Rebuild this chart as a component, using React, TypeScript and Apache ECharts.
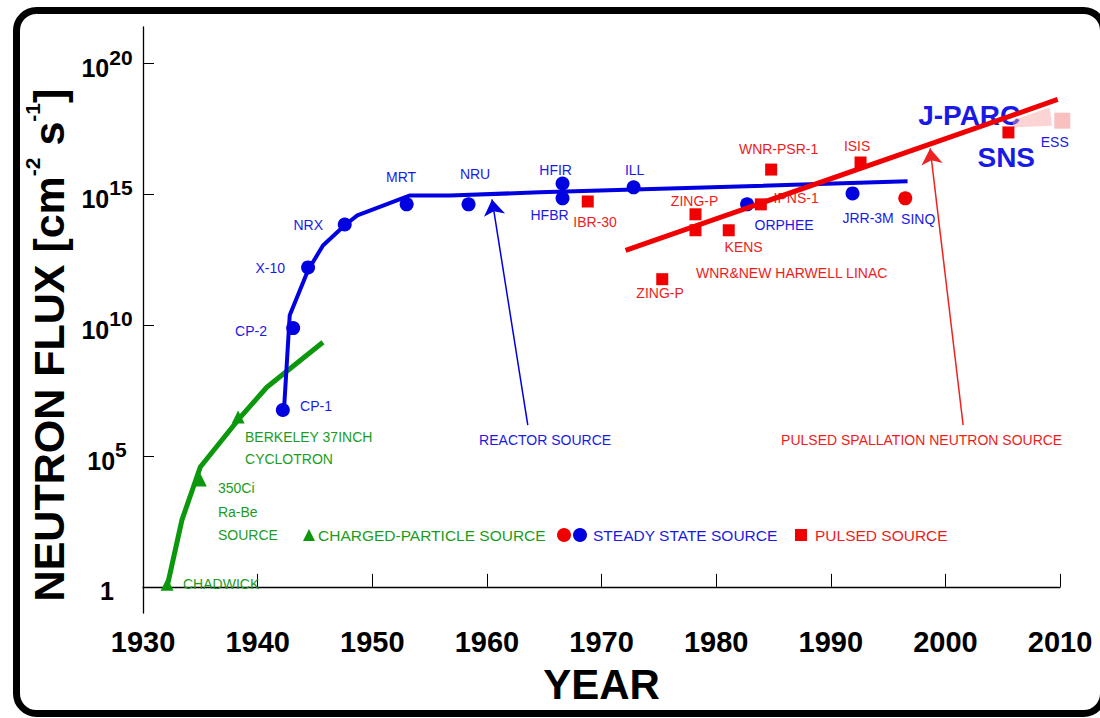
import React, { useEffect, useRef } from 'react';
import * as echarts from 'echarts';

// ---------- data (x = year, y = log10 of neutron flux) ----------
const fluxTickExponents = [0, 5, 10, 15, 20];

const chargedCurve = [
  [1932.1, 0.0], [1933.4, 2.56], [1935.0, 4.58], [1938.5, 6.49], [1940.8, 7.63], [1945.7, 9.35],
];
const chargedSources = [
  ['CHADWICK', 1932.1, 0.1],
  ['350Ci Ra-Be', 1935.0, 4.08],
  ['BERKELEY 37INCH', 1938.3, 6.49],
];

const reactorCurve = [
  [1942.3, 6.76], [1942.8, 10.38], [1944.4, 12.1], [1945.7, 13.05], [1947.6, 13.82],
  [1948.7, 14.2], [1953.3, 14.96], [1956.8, 14.96], [1964.6, 15.08], [1996.7, 15.5],
];
const steadySources = [
  ['CP-1', 1942.2, 6.76], ['CP-2', 1943.1, 9.89], ['X-10', 1944.4, 12.21], ['NRX', 1947.6, 13.85],
  ['MRT', 1953.0, 14.62], ['NRU', 1958.4, 14.62], ['HFIR', 1966.6, 15.42], ['HFBR', 1966.6, 14.85],
  ['ILL', 1972.8, 15.27], ['ORPHEE', 1982.7, 14.62], ['JRR-3M', 1991.9, 15.04],
];
const steadySpallation = [['SINQ', 1996.5, 14.85]];

const pulsedTrend = [[1972.1, 12.86], [2009.8, 18.63]];
const pulsedSources = [
  ['IBR-30', 1968.8, 14.73], ['ZING-P', 1978.2, 14.24], ['WNR', 1978.2, 13.63], ['KENS', 1981.1, 13.63],
  ['IPNS-1', 1983.9, 14.62], ['WNR-PSR-1', 1984.8, 15.95], ['ISIS', 1992.6, 16.22],
  ['ZING-P (1975)', 1975.3, 11.76], ['SNS', 2005.5, 17.37],
];
const futureSources = [['ESS', 2010.2, 17.82]];
const futureFan = [[2005.9, 17.56], [2005.9, 17.84], [2009.1, 18.32], [2009.3, 17.63]];

const arrowReactor = [[1963.57, 6.18], [1960.45, 14.81]];
const arrowPulsed = [[2001.55, 6.18], [1998.67, 16.76]];

// annotation texts: [text, year, log10 flux, align]
const greenNotes = [
  ['CHADWICK', 1933.49, 0.11, 'left'], ['350Ci', 1936.54, 3.78, 'left'], ['Ra-Be', 1936.54, 2.86, 'left'],
  ['SOURCE', 1936.54, 2.0, 'left'], ['BERKELEY 37INCH', 1938.9, 5.73, 'left'], ['CYCLOTRON', 1938.9, 4.89, 'left'],
];
const blueNotes = [
  ['CP-1', 1943.7, 6.91, 'left'], ['CP-2', 1940.82, 9.77, 'right'], ['X-10', 1942.39, 12.18, 'right'],
  ['NRX', 1945.71, 13.85, 'right'], ['MRT', 1952.51, 15.65, 'center'], ['NRU', 1958.97, 15.8, 'center'],
  ['HFIR', 1966.0, 15.92, 'center'], ['HFBR', 1965.47, 14.2, 'center'], ['ILL', 1972.89, 15.92, 'center'],
  ['ORPHEE', 1985.93, 13.82, 'center'], ['JRR-3M', 1993.26, 14.08, 'center'], ['SINQ', 1997.63, 14.05, 'center'],
  ['REACTOR SOURCE', 1965.08, 5.61, 'center'], ['ESS', 2009.54, 17.02, 'center'],
];
const bigNotes = [['J-PARC', 2002.08, 18.02], ['SNS', 2005.31, 16.41]];
const redNotes = [
  ['IBR-30', 1969.44, 13.93, 'center'], ['ZING-P', 1978.12, 14.73, 'center'], ['IPNS-1', 1986.98, 14.85, 'center'],
  ['WNR-PSR-1', 1985.45, 16.72, 'center'], ['ISIS', 1992.3, 16.87, 'center'], ['KENS', 1982.4, 12.98, 'center'],
  ['WNR&NEW HARWELL LINAC', 1986.59, 11.98, 'center'], ['ZING-P', 1975.11, 11.22, 'center'],
  ['PULSED SPALLATION NEUTRON SOURCE', 1997.93, 5.61, 'center'],
];

const legendItems = ['CHARGED-PARTICLE SOURCE', 'STEADY STATE SOURCE', 'PULSED SOURCE'];

// ---------- styles ----------
const FONT = '"Liberation Sans", Arial, Helvetica, sans-serif';
const GREEN = '#0c980c';
const GREEN_T = '#1c9c1c';
const BLUE = '#0000e0';
const BLUE_T = '#1a1ae6';
const RED = '#f00000';
const RED_T = '#ee1c1c';

function noteItems(notes: any[], color: string, size = 14, weight: any = 'normal') {
  return notes.map((n) => ({
    value: [n[1], n[2]],
    label: {
      show: true,
      formatter: n[0],
      color,
      opacity: 1,
      fontSize: size,
      fontWeight: weight,
      fontFamily: FONT,
      align: n[3] || 'center',
      verticalAlign: 'middle',
      position: 'inside',
    },
  }));
}

export default function App() {
  const ref = useRef<HTMLDivElement>(null);
  useEffect(() => {
    document.body.style.margin = '0';
    const chart = echarts.init(ref.current!, null, { renderer: 'svg' });
    const xy = (arr: any[]) => arr.map((d) => [d[1], d[2]]);
    const solid = (color: string) => ({ color, opacity: 1 });
    const note = (data: any[]) => ({
      type: 'scatter', z: 1, symbolSize: 0, silent: true, clip: false,
      itemStyle: { opacity: 1 }, data,
    });
    const option: any = {
      animation: false,
      backgroundColor: '#fff',
      grid: { left: 143, right: 40, top: 27, bottom: 105, containLabel: false },
      xAxis: {
        type: 'value', min: 1930, max: 2010, interval: 10,
        axisLine: { show: true, lineStyle: { color: '#000', width: 1.3 } },
        axisTick: { show: true, inside: true, length: 13, lineStyle: { color: '#000', width: 1 } },
        axisLabel: {
          fontSize: 29, fontWeight: 'bold', color: '#000', fontFamily: FONT, margin: 14,
          formatter: (v: number) => String(v),
        },
        splitLine: { show: false },
        name: 'YEAR', nameLocation: 'middle', nameGap: 50,
        nameTextStyle: { fontSize: 42, fontWeight: 'bold', color: '#000', fontFamily: FONT },
      },
      yAxis: {
        type: 'value', min: -1, max: 21.4,
        axisLine: { show: true, lineStyle: { color: '#000', width: 1.3 } },
        axisTick: { show: true, inside: true, length: 11, customValues: fluxTickExponents, lineStyle: { color: '#000', width: 1 } },
        axisLabel: {
          customValues: fluxTickExponents,
          align: 'center', margin: 36,
          formatter: (v: number) => (v === 0 ? '{b|1}' : `{b|10}{s|${v}}`),
          rich: {
            b: { fontSize: 25, fontWeight: 'bold', color: '#000', fontFamily: FONT, lineHeight: 34, verticalAlign: 'bottom' },
            s: { fontSize: 21, fontWeight: 'bold', color: '#000', fontFamily: FONT, lineHeight: 20, verticalAlign: 'top' },
          },
        },
        splitLine: { show: false },
      },
      graphic: [
        {
          type: 'rect', z: -10, silent: true,
          shape: { x: 16.5, y: 10.5, width: 1087, height: 703, r: 20 },
          style: { fill: 'none', stroke: '#000', lineWidth: 7 },
        },
        {
          type: 'text', x: 46, y: 345, rotation: Math.PI / 2,
          style: {
            text: '{a|NEUTRON FLUX [cm}{s|-2}{a| s}{s|-1}{a|]}',
            align: 'center', verticalAlign: 'middle',
            rich: {
              a: { fontSize: 43, fontWeight: 'bold', fill: '#000', fontFamily: FONT, lineHeight: 48, verticalAlign: 'bottom' },
              s: { fontSize: 21, fontWeight: 'bold', fill: '#000', fontFamily: FONT, lineHeight: 20, verticalAlign: 'top' },
            },
          },
        },
        // legend
        { type: 'polygon', shape: { points: [[303, 541], [315, 541], [309, 529]] }, style: { fill: GREEN } },
        { type: 'text', x: 318, y: 535, style: { text: legendItems[0], fill: GREEN_T, fontSize: 15.5, fontFamily: FONT, verticalAlign: 'middle' } },
        { type: 'circle', shape: { cx: 564, cy: 535, r: 7 }, style: { fill: RED } },
        { type: 'circle', shape: { cx: 580, cy: 535, r: 7 }, style: { fill: BLUE } },
        { type: 'text', x: 593, y: 535, style: { text: legendItems[1], fill: BLUE_T, fontSize: 15.5, fontFamily: FONT, verticalAlign: 'middle' } },
        { type: 'rect', shape: { x: 795, y: 529, width: 12, height: 12 }, style: { fill: RED } },
        { type: 'text', x: 815, y: 535, style: { text: legendItems[2], fill: RED_T, fontSize: 15.5, fontFamily: FONT, verticalAlign: 'middle' } },
      ],
      series: [
        // annotation texts (under the marks)
        note(noteItems(greenNotes, GREEN_T)),
        note(noteItems(blueNotes, BLUE_T)),
        note(noteItems(redNotes, RED_T)),
        note(noteItems(bigNotes, BLUE_T, 28, 'bold')),
        // future fan
        {
          type: 'custom', z: 2, clip: false, silent: true, data: futureFan,
          renderItem: (params: any, api: any) => {
            if (params.dataIndex !== 0) return { type: 'group', children: [] };
            return {
              type: 'polygon',
              shape: { points: futureFan.map((p) => api.coord(p)) },
              style: { fill: 'rgba(250,160,160,0.45)' },
            };
          },
        },
        // arrows
        {
          type: 'lines', coordinateSystem: 'cartesian2d', z: 3, silent: true,
          symbol: ['none', 'arrow'], symbolSize: [9, 16],
          lineStyle: { opacity: 1, width: 1.5 },
          data: [
            { coords: arrowReactor, lineStyle: { color: BLUE, width: 1.5, opacity: 1 } },
            { coords: arrowPulsed, lineStyle: { color: '#ee2222', width: 1.5, opacity: 1 } },
          ],
        },
        { type: 'line', z: 4, data: chargedCurve, symbol: 'none', lineStyle: { color: GREEN, width: 5 } },
        { type: 'scatter', z: 5, data: xy(chargedSources), symbol: 'triangle', symbolSize: 13, itemStyle: solid(GREEN) },
        { type: 'line', z: 4, data: reactorCurve, symbol: 'none', lineStyle: { color: BLUE, width: 4 } },
        { type: 'scatter', z: 5, data: xy(steadySources), symbol: 'circle', symbolSize: 14, itemStyle: solid(BLUE) },
        { type: 'scatter', z: 5, data: xy(steadySpallation), symbol: 'circle', symbolSize: 14, itemStyle: solid(RED) },
        { type: 'line', z: 6, data: pulsedTrend, symbol: 'none', lineStyle: { color: RED, width: 5 } },
        { type: 'scatter', z: 7, data: xy(pulsedSources), symbol: 'rect', symbolSize: 12, itemStyle: solid(RED) },
        { type: 'scatter', z: 7, clip: false, data: xy(futureSources), symbol: 'rect', symbolSize: 16, itemStyle: solid('#f9c0c0') },
      ],
    };
    chart.setOption(option);
    return () => chart.dispose();
  }, []);
  return <div ref={ref} style={{ position: 'fixed', left: 0, top: 0, width: 1100, height: 718 }} />;
}
